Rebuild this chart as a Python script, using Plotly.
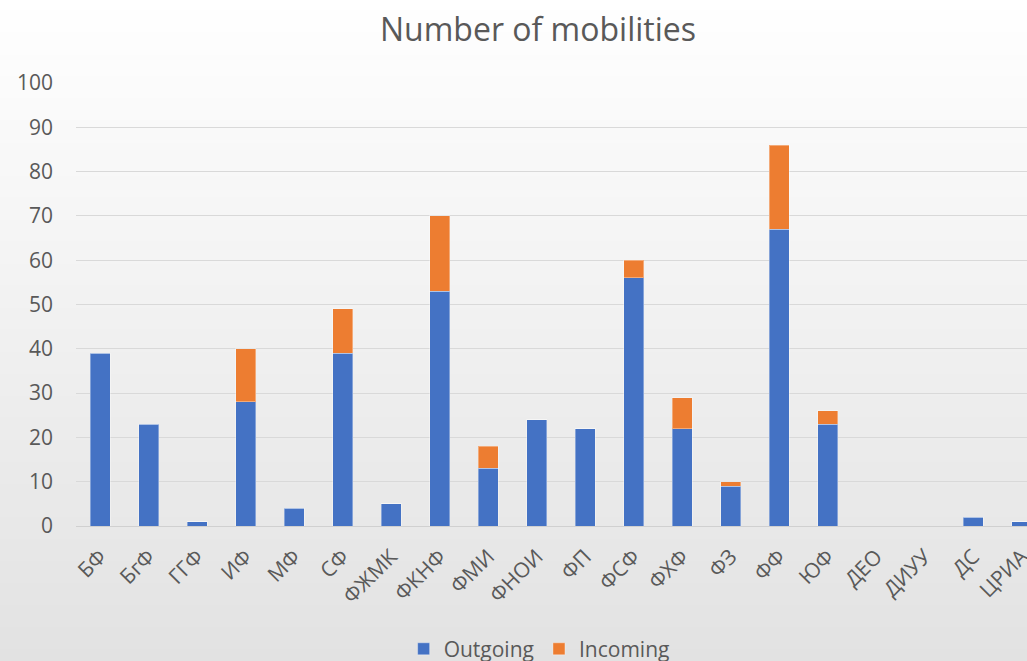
import plotly.graph_objects as go

categories = ["БФ", "БгФ", "ГГФ", "ИФ", "МФ", "СФ", "ФЖМК", "ФКНФ", "ФМИ", "ФНОИ",
              "ФП", "ФСФ", "ФХФ", "ФЗ", "ФФ", "ЮФ", "ДЕО", "ДИУУ", "ДС", "ЦРИА"]
outgoing = [39, 23, 1, 28, 4, 39, 5, 53, 13, 24, 22, 56, 22, 9, 67, 23, 0, 0, 2, 1]
incoming = [0, 0, 0, 12, 0, 10, 0, 17, 5, 0, 0, 4, 7, 1, 19, 3, 0, 0, 0, 0]
y_ticks = [0, 10, 20, 30, 40, 50, 60, 70, 80, 90, 100]

W, H = 1027, 661
ML, MR, MT, MB = 76, 0, 83, 135
PW, PH = W - ML - MR, H - MT - MB
STEP = 48.5

fig = go.Figure()
fig.add_trace(go.Bar(name="Outgoing", x=categories, y=outgoing,
                     marker=dict(color="#4472C4", line=dict(color="rgba(255,255,255,0.35)", width=1))))
fig.add_trace(go.Bar(name="Incoming", x=categories, y=incoming,
                     marker=dict(color="#ED7D31", line=dict(color="rgba(255,255,255,0.35)", width=1))))

# gradient background strips
shapes = []
N = 60
top_c, bot_c = 255, 226
for i in range(N):
    p0 = i * H / N
    p1 = (i + 1) * H / N
    c = round(top_c + (bot_c - top_c) * (i + 0.5) / N)
    y0 = (H - p1 - MB) / PH
    y1 = (H - p0 - MB) / PH
    shapes.append(dict(type="rect", xref="paper", yref="paper",
                       x0=-ML / PW - 0.02, x1=1.02, y0=y0 - 0.002, y1=y1 + 0.002,
                       fillcolor=f"rgb({c},{c},{c})", line=dict(width=0), layer="below"))

fig.update_layout(
    width=W, height=H,
    margin=dict(l=ML, r=MR, t=MT, b=MB, autoexpand=False),
    barmode="stack",
    bargap=0.58,
    paper_bgcolor="#f0f0f0",
    plot_bgcolor="rgba(0,0,0,0)",
    shapes=shapes,
    title=dict(text="Number of mobilities", x=538 / W, xanchor="center",
               y=1 - 30 / H, yanchor="middle",
               font=dict(family="Open Sans", size=32, color="#595959")),
    font=dict(family="Open Sans", color="#595959"),
    xaxis=dict(range=[-0.5, -0.5 + PW / STEP], tickangle=-45, automargin=False,
               tickfont=dict(size=21, color="#595959"),
               showgrid=False, showline=True, linecolor="#d0d0d0", linewidth=1,
               ticklabelstandoff=9, fixedrange=True),
    yaxis=dict(range=[0, 100], tickvals=y_ticks, showgrid=True, gridcolor="#d9d9d9",
               automargin=False,
               gridwidth=1, zeroline=False, tickfont=dict(size=21, color="#595959"),
               ticklabelstandoff=22),
    legend=dict(orientation="h", x=0.487, xanchor="center", y=-0.278, yanchor="middle",
                font=dict(size=21, color="#595959"), bgcolor="rgba(0,0,0,0)",
                traceorder="normal"),
)

fig.write_html("out.html", config={"displayModeBar": False},
               post_script="document.body.style.margin='0';document.body.style.overflow='hidden';")
